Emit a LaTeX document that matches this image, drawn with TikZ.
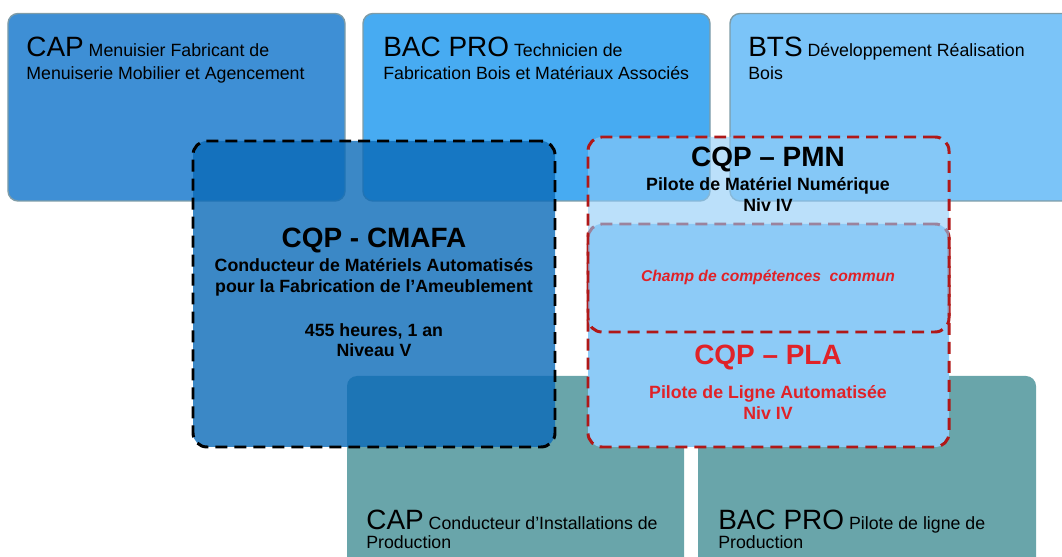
\documentclass[tikz,border=0pt]{standalone}
\usepackage{fontspec}
\setmainfont{Liberation Sans}
\definecolor{capblue}{HTML}{3E8FD5}
\definecolor{bacblue}{HTML}{47ABF2}
\definecolor{btsblue}{HTML}{7BC4F8}
\definecolor{prodteal}{HTML}{69A5AA}
\definecolor{edgegray}{HTML}{7E9CA8}
\definecolor{cmafablue}{HTML}{0A6AB8}
\definecolor{cqpblue}{HTML}{8DCBF7}
\definecolor{cqpred}{HTML}{B01818}
\definecolor{txtred}{HTML}{E02228}
\begin{document}
\begin{tikzpicture}[
      lvl/.style={draw=edgegray, line width=0.8pt, rounded corners=0.2cm, inner sep=0pt},
      cqp/.style={line width=1.7pt, dash pattern=on 6.8pt off 4pt, rounded corners=0.28cm, inner sep=0pt},
      dipl/.style={align=left, inner sep=0pt, anchor=base west, font=\fontsize{10.1}{13.2}\selectfont},
      ttl/.style={anchor=base, inner sep=0pt, font=\fontsize{15.9}{18}\selectfont\bfseries},
      sub/.style={anchor=base, align=center, inner sep=0pt, font=\fontsize{10.1}{12.5}\selectfont\bfseries}]
    \useasboundingbox (0,0) rectangle (21.24,11.14);
    % diplomas, wood side (top) and production side (bottom)
    \node[lvl, fill=capblue, minimum width=6.74cm, minimum height=3.75cm] (capmen) at (3.53,8.995) {};
    \node[lvl, fill=bacblue, minimum width=6.94cm, minimum height=3.75cm] (bacbois) at (10.73,8.995) {};
    \node[lvl, fill=btsblue, minimum width=7.0cm, minimum height=3.75cm] (btsbois) at (18.10,8.995) {};
    \node[lvl, draw=none, fill=prodteal, minimum width=6.74cm, minimum height=4.02cm] (capprod) at (10.31,1.61) {};
    \node[lvl, draw=none, fill=prodteal, minimum width=6.76cm, minimum height=4.02cm] (bacprod) at (17.34,1.61) {};
    % anchor base of a two-line node sits on its last line
    \node[dipl] (capment) at (0.52,9.54) {{\fontsize{15.9}{18}\selectfont CAP} Menuisier Fabricant de\\Menuiserie Mobilier et Agencement};
    \node[dipl] (bacboist) at (7.66,9.54) {{\fontsize{15.9}{18}\selectfont BAC PRO} Technicien de\\Fabrication Bois et Matériaux Associés};
    \node[dipl] (btsboist) at (14.96,9.54) {{\fontsize{15.9}{18}\selectfont BTS} Développement Réalisation\\Bois};
    \node[dipl, font=\fontsize{10.1}{10.8}\selectfont] (capprodt) at (7.32,0.18) {{\fontsize{15.9}{18}\selectfont CAP} Conducteur d’Installations de\\Production};
    \node[dipl, font=\fontsize{10.1}{10.8}\selectfont] (bacprodt) at (14.36,0.18) {{\fontsize{15.9}{18}\selectfont BAC PRO} Pilote de ligne de\\Production};
    % CQP boxes
    \node[cqp, draw=black, fill=cmafablue, fill opacity=0.8, minimum width=7.24cm, minimum height=6.12cm] (cmafa) at (7.48,5.26) {};
    \node[cqp, draw=cqpred, fill=cqpblue, minimum width=7.22cm, minimum height=4.46cm] (pla) at (15.37,4.43) {};
    \node[cqp, draw=cqpred, fill=cqpblue, fill opacity=0.6, minimum width=7.22cm, minimum height=3.90cm] (pmn) at (15.37,6.45) {};
    \node[ttl] (cmafat) at (7.48,6.18) {CQP - CMAFA};
    \node[sub, font=\fontsize{10.1}{11.9}\selectfont\bfseries] (cmafas) at (7.48,4.00) {Conducteur de Matériels Automatisés\\pour la Fabrication de l’Ameublement\\[13pt]455 heures, 1 an\\Niveau V};
    \node[ttl] (pmnt) at (15.36,7.80) {CQP – PMN};
    \node[sub] (pmns) at (15.36,6.90) {Pilote de Matériel Numérique\\Niv IV};
    \node[anchor=base, inner sep=0pt, text=txtred, font=\fontsize{8.9}{10}\selectfont\bfseries\itshape] (commun) at (15.36,5.50) {Champ de compétences\ \ commun};
    \node[ttl, text=txtred] (plat) at (15.36,3.84) {CQP – PLA};
    \node[sub, text=txtred] (plas) at (15.36,2.74) {Pilote de Ligne Automatisée\\Niv IV};
  \end{tikzpicture}
\end{document}
